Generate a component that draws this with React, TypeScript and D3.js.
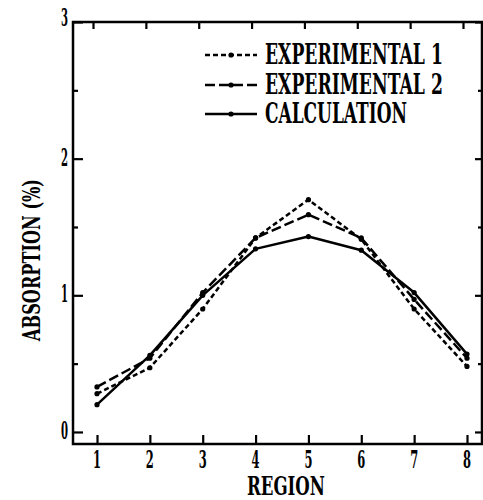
import React, { useEffect, useRef } from 'react';
import * as d3 from 'd3';

// values
const regions = [1, 2, 3, 4, 5, 6, 7, 8];
const experimental1 = [0.28, 0.47, 0.9, 1.42, 1.7, 1.41, 0.9, 0.48];
const experimental2 = [0.33, 0.54, 1.02, 1.42, 1.59, 1.42, 0.97, 0.54];
const calculation = [0.2, 0.56, 1.0, 1.34, 1.43, 1.33, 1.02, 0.57];

const yMajorTicks = [0, 1, 2, 3];
const yMinorTicks = [0.5, 1.5, 2.5];

const seriesNames = ['EXPERIMENTAL 1', 'EXPERIMENTAL 2', 'CALCULATION'];
const seriesDash = ['5,3', '10,4', null];

const FONT = "'DejaVu Serif', serif";

const App = () => {
    const svgRef = useRef<SVGSVGElement>(null);

    useEffect(() => {
        const svg = d3.select(svgRef.current);
        svg.selectAll('*').remove();

        const left = 73, right = 482, top = 22, bottom = 444;

        const x = d3.scaleLinear().domain([1, 8]).range([97, 467]);
        const y = d3.scaleLinear().domain([-0.088, 3]).range([bottom, top]);

        // condensed typewriter look: squeeze bold serif text to a given width
        const fitText = (str, px, py, size, width, anchor = 'start', rotate = 0) => {
            const t = svg.append('text')
                .style('font-family', FONT)
                .style('font-weight', 'bold')
                .style('font-size', `${size}px`)
                .style('text-anchor', anchor)
                .attr('fill', '#000')
                .text(str);
            const len = (t.node() as SVGTextElement).getComputedTextLength() || width;
            t.attr('transform', `translate(${px},${py}) rotate(${rotate}) scale(${width / len},1)`);
            return t;
        };

        const styleAxis = (g) => {
            g.select('.domain').remove();
            g.selectAll('line').attr('stroke', '#000').attr('stroke-width', 2.2);
            g.selectAll('text').remove();
        };

        // left axis ticks
        svg.append('g')
            .attr('transform', `translate(${left},0)`)
            .call(d3.axisLeft(y).tickValues(yMajorTicks).tickSizeInner(-10).tickSizeOuter(0))
            .call(styleAxis);
        svg.append('g')
            .attr('transform', `translate(${left},0)`)
            .call(d3.axisLeft(y).tickValues(yMinorTicks).tickSizeInner(-5).tickSizeOuter(0))
            .call(styleAxis);

        // right axis ticks
        svg.append('g')
            .attr('transform', `translate(${right},0)`)
            .call(d3.axisRight(y).tickValues(yMajorTicks).tickSizeInner(-7).tickSizeOuter(0))
            .call(styleAxis);
        svg.append('g')
            .attr('transform', `translate(${right},0)`)
            .call(d3.axisRight(y).tickValues(yMinorTicks).tickSizeInner(-4).tickSizeOuter(0))
            .call(styleAxis);

        // bottom axis ticks
        svg.append('g')
            .attr('transform', `translate(0,${bottom})`)
            .call(d3.axisBottom(x).tickValues(regions).tickSizeInner(-9).tickSizeOuter(0))
            .call(styleAxis);

        // top axis (scan is slightly skewed, ticks sit a bit left)
        svg.append('g')
            .attr('transform', `translate(-4,${top})`)
            .call(d3.axisTop(x).tickValues(regions).tickSizeInner(-7).tickSizeOuter(0))
            .call(styleAxis);

        // tick labels
        yMajorTicks.forEach((v) => {
            fitText(String(v), 68, y(v) + 7 - (v === 3 ? 3 : 0), 24, 7, 'end');
        });
        regions.forEach((r) => {
            fitText(String(r), x(r), 468, 24, 8, 'middle');
        });

        // frame
        svg.append('rect')
            .attr('x', left)
            .attr('y', top)
            .attr('width', right - left)
            .attr('height', bottom - top)
            .attr('fill', 'none')
            .attr('stroke', '#000')
            .attr('stroke-width', 2.5);

        // series
        const allSeries = [experimental1, experimental2, calculation];
        const line = d3.line<number>()
            .x((d, i) => x(regions[i]))
            .y((d) => y(d));

        allSeries.forEach((values, s) => {
            svg.append('path')
                .datum(values)
                .attr('d', line)
                .attr('fill', 'none')
                .attr('stroke', '#000')
                .attr('stroke-width', 2.5)
                .attr('stroke-linejoin', 'round')
                .attr('stroke-dasharray', seriesDash[s]);

            svg.append('g')
                .selectAll('circle')
                .data(values)
                .enter()
                .append('circle')
                .attr('cx', (d, i) => x(regions[i]))
                .attr('cy', (d) => y(d))
                .attr('r', 2.6)
                .attr('fill', '#000');
        });

        // legend
        const legendY = [55, 85, 114];
        const legendWidths = [178, 178, 142];
        seriesNames.forEach((name, s) => {
            svg.append('line')
                .attr('x1', 205)
                .attr('x2', 257)
                .attr('y1', legendY[s])
                .attr('y2', legendY[s])
                .attr('stroke', '#000')
                .attr('stroke-width', 2.5)
                .attr('stroke-dasharray', seriesDash[s]);
            svg.append('circle').attr('cx', 231).attr('cy', legendY[s]).attr('r', 2.6).attr('fill', '#000');
            fitText(name, 265, legendY[s] + 9, 27, legendWidths[s]);
        });

        // axis titles
        fitText('REGION', 286, 495, 26, 78, 'middle');
        fitText('ABSORPTION (%)', 40, 260, 25, 162, 'middle', -90);
    }, []);

    return (
        <svg
            ref={svgRef}
            width={483}
            height={500}
            style={{ position: 'absolute', left: 0, top: 0, background: '#fff' }}
        ></svg>
    );
};

export default App;
